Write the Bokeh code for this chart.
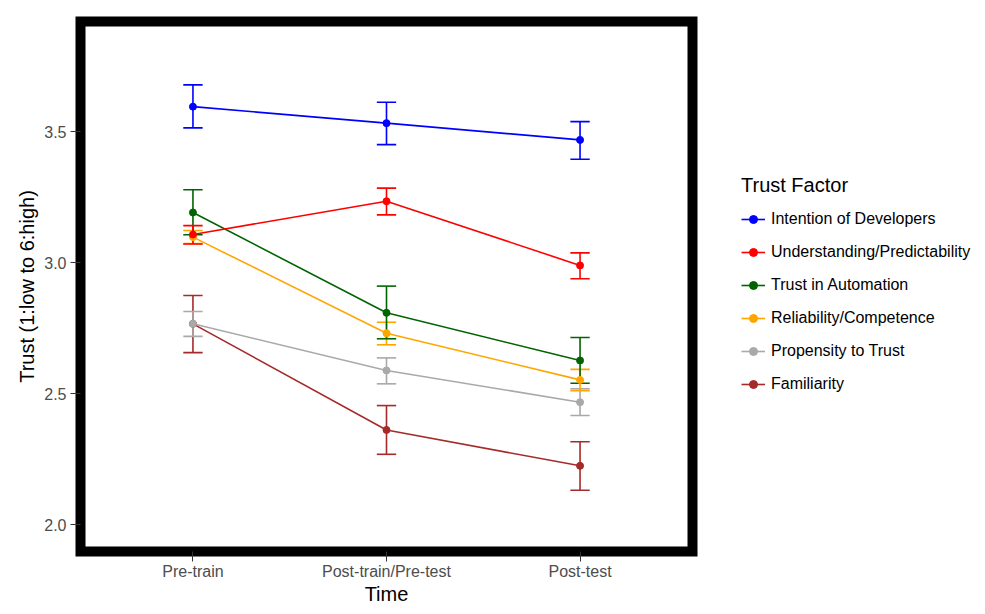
from bokeh.plotting import figure
from bokeh.models import Range1d, FixedTicker, Legend, LegendItem
from bokeh.embed import file_html
from bokeh.resources import INLINE
import numpy as np

times = ["Pre-train", "Post-train/Pre-test", "Post-test"]
factors = ["Intention of Developers", "Understanding/Predictability", "Trust in Automation",
           "Reliability/Competence", "Propensity to Trust", "Familiarity"]
colors = ["#0000FF", "#FF0000", "#006400", "#FFA500", "#A9A9A9", "#A52A2A"]

means = {
    "Intention of Developers":      [3.595, 3.532, 3.468],
    "Understanding/Predictability": [3.107, 3.234, 2.989],
    "Trust in Automation":          [3.191, 2.808, 2.626],
    "Reliability/Competence":       [3.097, 2.730, 2.552],
    "Propensity to Trust":          [2.766, 2.588, 2.467],
    "Familiarity":                  [2.766, 2.361, 2.224],
}
upper = {
    "Intention of Developers":      [3.678, 3.612, 3.538],
    "Understanding/Predictability": [3.141, 3.284, 3.037],
    "Trust in Automation":          [3.278, 2.910, 2.714],
    "Reliability/Competence":       [3.122, 2.772, 2.592],
    "Propensity to Trust":          [2.813, 2.636, 2.518],
    "Familiarity":                  [2.874, 2.454, 2.316],
}
lower = {
    "Intention of Developers":      [3.514, 3.450, 3.394],
    "Understanding/Predictability": [3.071, 3.182, 2.938],
    "Trust in Automation":          [3.106, 2.709, 2.539],
    "Reliability/Competence":       [3.072, 2.686, 2.511],
    "Propensity to Trust":          [2.718, 2.537, 2.416],
    "Familiarity":                  [2.656, 2.268, 2.131],
}
y_ticks = [2.0, 2.5, 3.0, 3.5]

FONT = "Liberation Sans"
x = np.arange(1, len(times) + 1)
cap = 0.1

p = figure(output_backend="svg", toolbar_location=None,
           frame_width=612, frame_height=530,
           min_border_left=80, min_border_right=290, min_border_top=21, min_border_bottom=60,
           x_range=Range1d(0.419, 3.581), y_range=Range1d(1.897, 3.920))

p.background_fill_color = "white"
p.border_fill_color = "white"
p.xgrid.visible = False
p.ygrid.visible = False
p.outline_line_color = "black"
p.outline_line_width = 10
p.outline_line_join = "miter"

lines = {}
pts = {}
for name, col in reversed(list(zip(factors, colors))):
    lines[name] = p.line(x, means[name], line_color=col, line_width=1.6)
for name, col in reversed(list(zip(factors, colors))):
    p.segment(x0=x, y0=lower[name], x1=x, y1=upper[name], line_color=col, line_width=1.6)
    p.segment(x0=x - cap / 2, y0=upper[name], x1=x + cap / 2, y1=upper[name], line_color=col, line_width=1.6)
    p.segment(x0=x - cap / 2, y0=lower[name], x1=x + cap / 2, y1=lower[name], line_color=col, line_width=1.6)
for name, col in reversed(list(zip(factors, colors))):
    pts[name] = p.scatter(x, means[name], size=7, fill_color=col, line_color=col)

# axes
p.xaxis.ticker = FixedTicker(ticks=list(x))
p.xaxis.major_label_overrides = {int(i): t for i, t in zip(x, times)}
p.yaxis.ticker = FixedTicker(ticks=y_ticks)
p.yaxis.major_label_overrides = {v: f"{v:.1f}" for v in y_ticks}
for ax in (p.xaxis[0], p.yaxis[0]):
    ax.axis_line_color = None
    ax.minor_tick_line_color = None
    ax.major_tick_in = 0
    ax.major_tick_out = 10
    ax.major_tick_line_color = "#333333"
    ax.major_tick_line_width = 1
    ax.major_label_text_font = FONT
    ax.major_label_text_font_size = "16px"
    ax.major_label_text_color = "#4D4D4D"
    ax.major_label_standoff = 4
    ax.axis_label_text_font = FONT
    ax.axis_label_text_font_size = "20px"
    ax.axis_label_text_font_style = "normal"
    ax.axis_label_text_color = "black"
    ax.axis_label_standoff = 4
p.xaxis.axis_label = "Time"
p.yaxis.axis_label = "Trust (1:low to 6:high)"
p.xaxis.major_label_standoff = 1
p.xaxis.axis_label_standoff = 0
p.yaxis.axis_label_standoff = 3

items = [LegendItem(label=name, renderers=[lines[name], pts[name]]) for name in factors]
legend = Legend(items=items, location=(49, 157), padding=0, margin=0,
                border_line_color=None, background_fill_alpha=0,
                title="Trust Factor", title_text_font=FONT, title_text_font_size="20px",
                title_text_font_style="normal", title_text_color="black", title_standoff=12,
                glyph_width=24, glyph_height=20, label_height=20, spacing=13,
                label_standoff=6, label_text_font=FONT, label_text_font_size="16px",
                label_text_color="black", label_text_baseline="middle")
p.add_layout(legend, "right")

open("out.html", "w").write(file_html(p, INLINE))
